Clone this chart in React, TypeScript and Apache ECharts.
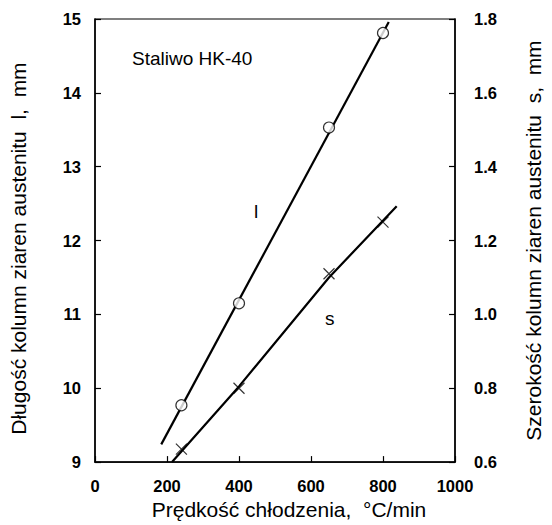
import React, { useEffect, useRef } from "react";
import * as echarts from "echarts";

// Data
const lPoints: [number, number][] = [
  [240, 9.77],
  [400, 11.15],
  [650, 13.53],
  [800, 14.81],
];
const lFitLine: [number, number][] = [
  [184, 9.24],
  [816, 14.96],
];
const sPoints: [number, number][] = [
  [240, 0.635],
  [400, 0.8],
  [650, 1.11],
  [800, 1.25],
];
const sFitLine: [number, number][] = [
  [214, 0.6],
  [400, 0.805],
  [650, 1.1],
  [838, 1.293],
];

const xTitle = "Prędkość chłodzenia,  °C/min";
const yLeftTitle = "Długość kolumn ziaren austenitu  l,  mm";
const yRightTitle = "Szerokość kolumn ziaren austenitu  s,  mm";
const annotTitle = "Staliwo HK-40";

const FONT = "Liberation Sans, Arial, sans-serif";

export default function App() {
  const ref = useRef<HTMLDivElement>(null);
  useEffect(() => {
    if (!ref.current) return;
    const chart = echarts.init(ref.current, undefined, { renderer: "svg" });
    const axisLine = { show: true, lineStyle: { color: "#000", width: 1.5 } };
    const axisTick = { show: true, inside: true, length: 6, lineStyle: { color: "#000", width: 1.2 } };
    const tickLabel = { color: "#000", fontSize: 16.5, fontWeight: "bold" as const, fontFamily: FONT };
    const nameStyle = { color: "#000", fontSize: 21, fontFamily: FONT };
    chart.setOption({
      animation: false,
      backgroundColor: "#fff",
      grid: {
        left: 93,
        right: 89,
        top: 19,
        bottom: 61,
        show: true,
        borderColor: "#000",
        borderWidth: 1.2,
        backgroundColor: "transparent",
      },
      xAxis: {
        type: "value",
        min: 0,
        max: 1000,
        interval: 200,
        axisLine,
        axisTick,
        splitLine: { show: false },
        axisLabel: { ...tickLabel, margin: 15, formatter: (v: number) => String(v) },
        name: xTitle,
        nameLocation: "middle",
        nameGap: 31,
        nameTextStyle: { ...nameStyle, padding: [0, 0, 0, 28] },
      },
      yAxis: [
        {
          type: "value",
          position: "left",
          min: 9,
          max: 15,
          interval: 1,
          axisLine,
          axisTick,
          splitLine: { show: false },
          axisLabel: { ...tickLabel, margin: 14 },
          name: yLeftTitle,
          nameLocation: "middle",
          nameGap: 66,
          nameRotate: 90,
          nameTextStyle: { ...nameStyle, padding: [0, 16, 0, 0] },
        },
        {
          type: "value",
          position: "right",
          min: 0.6,
          max: 1.8,
          interval: 0.2,
          axisLine,
          axisTick,
          splitLine: { show: false },
          axisLabel: {
            ...tickLabel,
            margin: 19,
            formatter: (v: number) => v.toFixed(1),
          },
          name: yRightTitle,
          nameLocation: "middle",
          nameGap: 68,
          nameRotate: 90,
          nameTextStyle: nameStyle,
        },
      ],
      series: [
        {
          type: "line",
          yAxisIndex: 0,
          data: lFitLine,
          showSymbol: false,
          symbol: "none",
          lineStyle: { color: "#000", width: 2.2 },
          z: 2,
        },
        {
          type: "scatter",
          yAxisIndex: 0,
          data: lPoints,
          symbol: "circle",
          symbolSize: 11,
          itemStyle: { color: "#fff", borderColor: "#000", borderWidth: 1.2 },
          z: 3,
        },
        {
          type: "line",
          yAxisIndex: 1,
          data: sFitLine,
          showSymbol: false,
          symbol: "none",
          lineStyle: { color: "#000", width: 2.2 },
          z: 2,
        },
        {
          type: "scatter",
          yAxisIndex: 1,
          data: sPoints,
          symbol: "path://M0,0L10,10M10,0L0,10",
          symbolSize: 11,
          itemStyle: { color: "none", borderColor: "#000", borderWidth: 1.2 },
          z: 3,
        },
      ],
      graphic: [
        {
          type: "text",
          left: 132,
          top: 49,
          style: { text: annotTitle, fill: "#000", fontSize: 19, fontFamily: FONT },
        },
        {
          type: "text",
          left: 254,
          top: 202,
          style: { text: "l", fill: "#000", fontSize: 19, fontFamily: FONT },
        },
        {
          type: "text",
          left: 325,
          top: 309,
          style: { text: "s", fill: "#000", fontSize: 19, fontFamily: FONT },
        },
      ],
    });
    return () => chart.dispose();
  }, []);
  return (
    <div
      ref={ref}
      style={{ position: "fixed", left: 0, top: 0, width: 552, height: 525, background: "#fff" }}
    />
  );
}
